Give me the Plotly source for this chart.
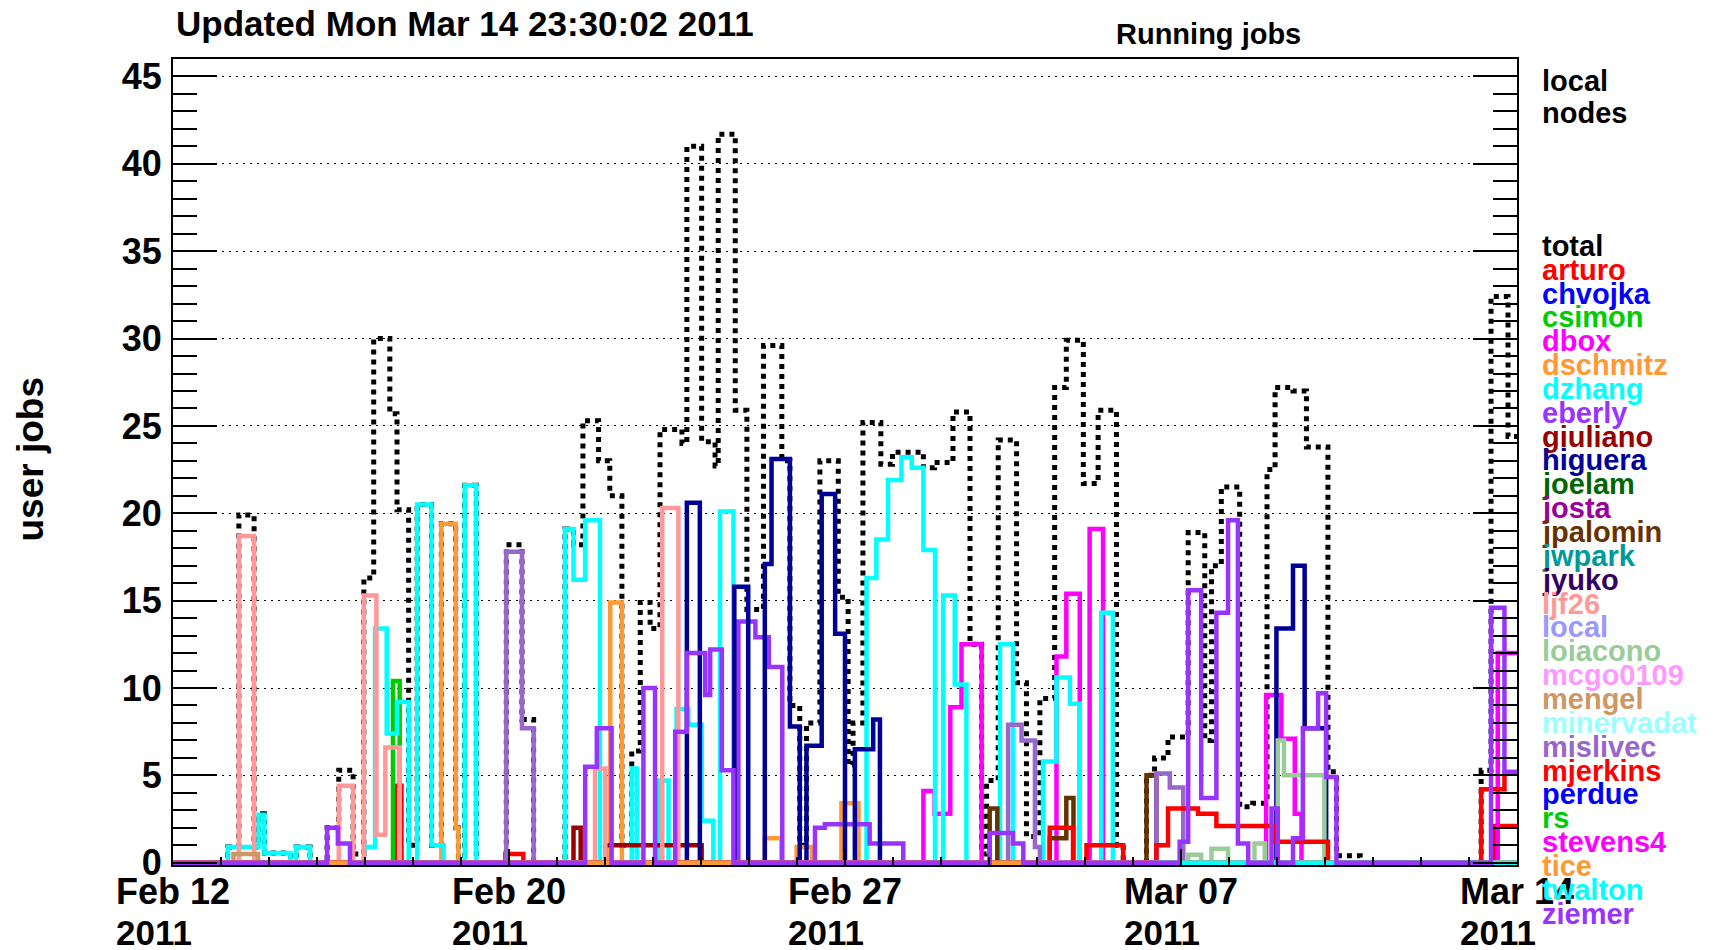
import pandas as pd
import plotly.graph_objects as go

# ---------------- data ----------------
START = pd.Timestamp("2011-02-12 23:30")
SPAN_DAYS = 30.0

tick_days = [0, 7.5, 15, 22.5, 30]
tick_labels = ["Feb 12", "Feb 20", "Feb 27", "Mar 07", "Mar 14"]
tick_year = "2011"

user_names = ["arturo", "chvojka", "csimon", "dbox", "dschmitz", "dzhang", "eberly",
              "giuliano", "higuera", "joelam", "josta", "jpalomin", "jwpark", "jyuko",
              "ljf26", "local", "loiacono", "mcgo0109", "mengel", "minervadat", "mislivec",
              "mjerkins", "perdue", "rs", "stevens4", "tice", "twalton", "ziemer"]
palette = ["#FF0000", "#0000FF", "#00CC00", "#FF00FF", "#FF9933", "#00FFFF", "#9933FF",
           "#990000", "#000099", "#006600", "#990099", "#663300", "#009999", "#330066",
           "#FF9999", "#9999FF", "#99CC99", "#FF99FF", "#CC9966", "#99FFFF", "#9966CC"]

# change points: day offset from START, value held until the next point
total_d = [0, 1.22, 1.47, 1.81, 1.91, 2.04, 2.62, 2.75, 3.06, 3.44, 3.70, 4.02, 4.26, 4.48,
           4.84, 5.0, 5.26, 5.45, 5.77, 5.99, 6.31, 6.37, 6.51, 6.77, 7.44, 7.79, 8.05, 8.75,
           8.94, 9.15, 9.5, 9.75, 10.02, 10.24, 10.43, 10.65, 10.87, 11.36, 11.47, 11.80,
           12.1, 12.17, 12.55, 12.81, 13.18, 13.59, 13.77, 13.99, 14.14, 14.44, 14.85, 15.07,
           15.18, 15.40, 15.80, 16.06, 16.75, 17.0, 17.41, 17.79, 18.05, 18.16, 18.42, 18.83,
           19.05, 19.35, 19.68, 19.94, 20.32, 20.65, 21.06, 21.21, 21.73, 21.91, 22.21, 22.66,
           23.03, 23.18, 23.40, 23.81, 24.10, 24.42, 24.60, 25.0, 25.3, 25.78, 25.97, 26.5,
           29.2, 29.42, 29.8]
total_v = [0, 0.9, 19.9, 0.9, 2.8, 0.55, 0, 0.9, 0, 2.0, 5.3, 0.5, 16.3, 30.0,
           25.7, 20.2, 1.0, 20.5, 1.0, 19.4, 2.0, 0, 21.6, 0, 18.2, 8.2, 0, 19.1,
           18.2, 25.3, 23.0, 21.0, 1.0, 6.4, 14.9, 13.4, 24.8, 24.0, 41.0, 24.1,
           22.7, 41.7, 25.9, 14.5, 29.6, 23.0, 9.0, 1.0, 8.0, 23.0, 15.2, 5.6,
           8.0, 25.2, 22.8, 23.5, 22.6, 22.9, 25.8, 12.5, 0.5, 4.7, 24.2, 10.3,
           1.5, 9.4, 27.2, 29.9, 21.7, 25.9, 1.0, 0, 5.0, 6.0, 7.2, 18.9,
           7.0, 17.0, 21.5, 3.2, 3.4, 22.5, 27.2, 27.0, 23.8, 5.2, 0.4, 0,
           5.3, 32.4, 24.4]

arturo_d = [0, 4.95, 5.1, 7.42, 7.82, 29.5]
arturo_v = [0, 4.4, 0, 0.5, 0, 2.1]

csimon_d = [0, 4.91, 5.06]
csimon_v = [0, 10.4, 0]

dbox_d = [0, 16.75, 17.0, 17.35, 17.6, 18.05, 19.72, 19.94, 20.24, 20.46, 20.76, 24.40,
          24.74, 25.04, 25.19, 29.57]
dbox_v = [0, 4.1, 2.8, 8.9, 12.5, 0, 11.8, 15.4, 0, 19.1, 0, 9.6, 7.1, 2.8, 0, 12.0]

dschmitz_d = [0, 5.99, 6.31, 6.37, 9.76, 10.02, 13.21, 13.58, 13.92, 14.26, 14.92, 15.3]
dschmitz_v = [0, 19.4, 2.0, 0, 14.9, 0, 1.4, 0, 0.9, 0, 3.4, 0]

dzhang_d = [0, 1.22, 1.91, 2.04, 2.62, 2.75, 3.06, 4.26, 4.51, 4.77, 5.0, 5.26, 5.45, 5.77,
            6.04, 6.51, 6.77, 8.75, 8.94, 9.2, 9.53, 10.24, 10.35, 10.84, 11.06, 11.24, 11.5,
            11.8, 12.06, 12.21, 12.51, 15.48, 15.70, 15.96, 16.26, 16.49, 16.75, 17.01, 17.19,
            17.45, 17.71, 18.46, 18.75, 19.42, 19.72, 20.02, 20.24, 20.72, 20.98]
dzhang_v = [0, 0.9, 2.75, 0.55, 0, 0.9, 0, 0.9, 13.4, 7.4, 9.2, 0, 20.5, 1.0,
            0, 21.6, 0, 19.1, 16.2, 19.6, 0, 5.4, 0, 4.7, 0, 8.8, 7.9,
            2.4, 0, 20.1, 0, 16.3, 18.5, 21.9, 23.2, 22.6, 17.9, 0, 15.3,
            10.2, 0, 12.5, 0, 5.8, 10.6, 9.1, 0, 14.3, 0]

eberly_d = [0, 12.62, 13.0, 13.3, 13.6, 14.33, 14.55, 15.55, 16.3]
eberly_v = [0, 13.8, 12.9, 11.2, 0, 2.0, 2.2, 1.1, 0]

giuliano_d = [0, 8.94, 9.1, 9.65, 11.8]
giuliano_v = [0, 2.0, 0, 1.0, 0]

higuera_d = [0, 11.47, 11.76, 12.53, 12.84, 13.21, 13.36, 13.77, 13.99, 14.14, 14.48, 14.78,
             15.0, 15.22, 15.63, 15.78, 24.63, 25.0, 25.26, 25.74]
higuera_v = [0, 20.6, 0, 15.8, 0, 17.1, 23.1, 7.8, 0, 6.7, 21.1, 13.1,
             0, 6.5, 8.2, 0, 13.4, 17.0, 7.7, 0]

jpalomin_d = [0, 18.23, 18.4, 19.57, 19.94, 20.1, 21.73, 21.95]
jpalomin_v = [0, 3.1, 0, 1.4, 3.7, 0, 5.0, 0]

ljf26_d = [0, 1.47, 1.81, 3.70, 4.02, 4.26, 4.54, 4.74, 5.06, 9.42, 9.65, 10.92, 11.28]
ljf26_v = [0, 18.7, 0, 4.4, 0, 15.3, 1.6, 6.6, 0, 5.4, 0, 20.3, 0]

loiacono_d = [0, 22.66, 22.95, 23.18, 23.55, 24.14, 24.37, 24.66, 24.8, 25.7]
loiacono_v = [0, 0.45, 0, 0.8, 0, 1.1, 0, 7.0, 5.0, 0]

mengel_d = [0, 1.35, 1.9]
mengel_v = [0, 0.5, 0]

mislivec_d = [0, 7.44, 7.79, 8.05, 18.64, 18.94, 19.24, 19.35, 21.95, 22.25, 22.55]
mislivec_v = [0, 17.8, 7.7, 0, 7.9, 7.0, 0.9, 0, 5.1, 4.3, 0]

mjerkins_d = [0, 19.57, 20.09, 20.39, 21.21, 21.95, 22.21, 22.88, 23.29, 24.59, 25.78, 29.2, 29.72]
mjerkins_v = [0, 2.0, 0, 1.0, 0, 1.0, 3.1, 2.8, 2.1, 1.2, 0, 4.2, 5.1]

tice_d = [0]
tice_v = [0]

twalton_d = [21.9]
twalton_v = [0]

ziemer_d = [0, 3.44, 3.68, 3.95, 9.20, 9.46, 9.79, 10.50, 10.76, 11.21, 11.47, 11.88, 11.99,
            12.25, 12.51, 18.23, 18.75, 18.98, 22.47, 22.66, 22.95, 23.29, 23.55, 23.77, 24.0,
            24.52, 24.66, 25.0, 25.22, 25.56, 25.74, 25.97, 29.42, 29.72]
ziemer_v = [0, 2.0, 1.1, 0, 5.5, 7.7, 0, 10.0, 0, 7.5, 12.0, 9.6, 12.2,
            5.3, 0, 1.7, 1.1, 0, 1.2, 15.6, 3.7, 14.3, 19.6, 1.1, 0,
            3.1, 0, 1.4, 7.7, 9.7, 4.9, 0, 14.6, 5.2]

# ---------------- layout constants ----------------
W, H = 1713, 950
ML, MR, MT, MB = 173, 196, 59, 85
PW, PH = W - ML - MR, H - MT - MB
FONT = "Liberation Sans, Arial, Helvetica, sans-serif"
LW = 4.5


def px_x(p):
    return (p - ML) / PW


def px_y(p):
    return (H - MB - p) / PH


def to_dates(days):
    return [(START + pd.Timedelta(days=d)).strftime("%Y-%m-%d %H:%M:%S") for d in days]


def color_of(name):
    if name == "total":
        return "#000000"
    return palette[user_names.index(name) % len(palette)]


fig = go.Figure()

series = [
    ("total", total_d, total_v),
    ("arturo", arturo_d, arturo_v),
    ("csimon", csimon_d, csimon_v),
    ("dbox", dbox_d, dbox_v),
    ("dschmitz", dschmitz_d, dschmitz_v),
    ("dzhang", dzhang_d, dzhang_v),
    ("eberly", eberly_d, eberly_v),
    ("giuliano", giuliano_d, giuliano_v),
    ("higuera", higuera_d, higuera_v),
    ("jpalomin", jpalomin_d, jpalomin_v),
    ("ljf26", ljf26_d, ljf26_v),
    ("loiacono", loiacono_d, loiacono_v),
    ("mengel", mengel_d, mengel_v),
    ("mislivec", mislivec_d, mislivec_v),
    ("mjerkins", mjerkins_d, mjerkins_v),
    ("tice", tice_d, tice_v),
    ("twalton", twalton_d, twalton_v),
    ("ziemer", ziemer_d, ziemer_v),
]

for name, d, v in series:
    assert len(d) == len(v), name
    xs = list(d) + [SPAN_DAYS]
    ys = list(v) + [v[-1]]
    is_total = name == "total"
    fig.add_trace(go.Scatter(
        x=to_dates(xs), y=ys, mode="lines", name=name, hoverinfo="skip",
        line=dict(color=color_of(name), width=5 if is_total else LW, shape="hv",
                  dash="dot" if is_total else "solid"),
    ))

fig.update_layout(
    width=W, height=H,
    margin=dict(l=ML, r=MR, t=MT, b=MB, autoexpand=False),
    paper_bgcolor="white", plot_bgcolor="white",
    showlegend=False,
    font=dict(family=FONT, color="black"),
    xaxis=dict(
        type="date",
        automargin=False,
        range=to_dates([0, SPAN_DAYS]),
        tickmode="array",
        tickvals=to_dates(tick_days),
        showticklabels=False,
        ticks="inside", ticklen=16, tickwidth=2, tickcolor="black",
        showline=True, linewidth=2, linecolor="black", mirror=True,
        showgrid=False, zeroline=False,
        minor=dict(ticks="inside", ticklen=8, tickwidth=1.5, tickcolor="black",
                   tick0=to_dates([0])[0], dtick=7.5 / 7 * 86400000, showgrid=False),
    ),
    yaxis=dict(
        automargin=False,
        range=[-0.13, 46.0],
        tick0=0, dtick=5,
        ticks="inside", ticklen=44, tickwidth=2, tickcolor="black",
        showline=True, linewidth=2, linecolor="black", mirror="allticks",
        showgrid=True, gridcolor="black", gridwidth=1, griddash="2px,5px",
        zeroline=False,
        ticklabelstandoff=2,
        tickfont=dict(family=FONT, size=36, weight="bold", color="black"),
        minor=dict(ticks="inside", ticklen=24, tickwidth=2, tickcolor="black",
                   dtick=1, showgrid=False),
    ),
)

ann = []
# two-line date labels under the axis (date line, then year line)
for tv, lab in zip(to_dates(tick_days), tick_labels):
    ann.append(dict(text=lab, x=tv, xref="x", y=px_y(891.5), yref="paper",
                    xanchor="center", yanchor="middle",
                    font=dict(family=FONT, size=36, weight="bold", color="black")))
    ann.append(dict(text=tick_year + "\u00a0" * 4, x=tv, xref="x", y=px_y(932.5), yref="paper",
                    xanchor="center", yanchor="middle",
                    font=dict(family=FONT, size=35, weight="bold", color="black")))
ann.append(dict(text="Updated Mon Mar 14 23:30:02 2011", x=px_x(174), y=px_y(23),
                xanchor="left", yanchor="middle",
                font=dict(family=FONT, size=35, weight="bold", color="black")))
ann.append(dict(text="Running jobs", x=px_x(1208), y=px_y(34),
                xanchor="center", yanchor="middle",
                font=dict(family=FONT, size=29, weight="bold", color="black")))
ann.append(dict(text="user jobs", x=px_x(29.5), y=px_y(459), textangle=-90,
                xanchor="center", yanchor="middle",
                font=dict(family=FONT, size=37, weight="bold", color="black")))
for txt, yp in [("local", 81), ("nodes", 112.5)]:
    ann.append(dict(text=txt, x=px_x(1540), y=px_y(yp), xanchor="left", yanchor="middle",
                    font=dict(family=FONT, size=29, weight="bold", color="black")))
legend_names = ["total"] + user_names
for i, nm in enumerate(legend_names):
    ann.append(dict(text=nm, x=px_x(1540), y=px_y(245.8 + 23.85 * i),
                    xanchor="left", yanchor="middle",
                    font=dict(family=FONT, size=29, weight="bold", color=color_of(nm))))
for a in ann:
    a.setdefault("xref", "paper")
    a.setdefault("yref", "paper")
    a.update(showarrow=False)
fig.update_layout(annotations=ann)

fig.write_html("out.html", config={"displayModeBar": False},
               post_script="document.body.style.margin='0px';")
